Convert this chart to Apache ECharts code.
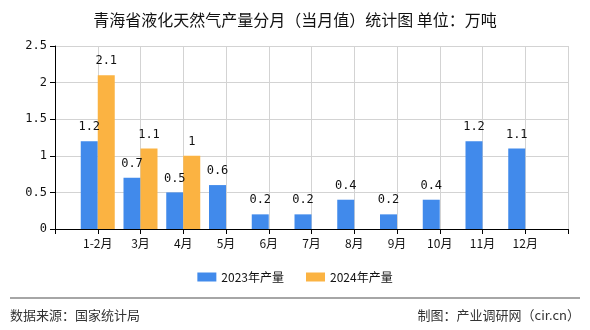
<!DOCTYPE html>
<html>
<head>
<meta charset="utf-8">
<script src="https://cdn.jsdelivr.net/npm/echarts@6/dist/echarts.min.js"></script>
<style>html,body{margin:0;padding:0;background:#fff}#c{width:590px;height:330px}</style>
</head>
<body>
<div id="c"></div>
<script>
const categories = ['1-2月','3月','4月','5月','6月','7月','8月','9月','10月','11月','12月'];
const series2023 = [1.2,0.7,0.5,0.6,0.2,0.2,0.4,0.2,0.4,1.2,1.1];
const series2024 = [2.1,1.1,1,null,null,null,null,null,null,null,null];
const seriesNames = ['2023年产量','2024年产量'];
const yTicks = {min:0,max:2.5,interval:0.5};

const axisCats = [''].concat(categories, ['']);
const pad = a => [null].concat(a, [null]);
const monoFont = '"DejaVu Sans Mono", monospace';
const cjkFont = '"Noto Sans CJK SC", sans-serif';

const chart = echarts.init(document.getElementById('c'));
chart.setOption({
  animation:false,
  backgroundColor:'#fff',
  title:{text:'青海省液化天然气产量分月（当月值）统计图 单位：万吨',left:'center',top:7,
    textStyle:{fontSize:16,fontWeight:'normal',color:'#111',fontFamily:cjkFont}},
  grid:{left:55,right:22,top:46,bottom:101,containLabel:false},
  legend:{bottom:42,left:'center',itemWidth:19,itemHeight:9,itemGap:22,icon:'rect',
    textStyle:{fontSize:12,color:'#111',fontFamily:cjkFont},data:seriesNames},
  xAxis:{type:'category',data:axisCats,boundaryGap:false,
    axisLine:{lineStyle:{color:'#000',width:1}},
    axisTick:{show:true,length:5,lineStyle:{color:'#000'}},
    axisLabel:{fontSize:12,color:'#111',fontFamily:cjkFont,margin:8},
    splitLine:{show:true,lineStyle:{color:'#d3d3d3',width:1}}},
  yAxis:{type:'value',min:yTicks.min,max:yTicks.max,interval:yTicks.interval,
    axisLine:{show:true,lineStyle:{color:'#000',width:1}},
    axisTick:{show:true,length:5,lineStyle:{color:'#000'}},
    axisLabel:{fontSize:12,color:'#111',fontFamily:monoFont,margin:8},
    splitLine:{show:true,lineStyle:{color:'#d3d3d3',width:1}}},
  series:[
    {name:seriesNames[0],type:'bar',data:pad(series2023),barWidth:17,barGap:'0%',
     itemStyle:{color:'#418aeb'},
     label:{show:true,position:'top',distance:8,fontSize:12,color:'#111',fontFamily:monoFont}},
    {name:seriesNames[1],type:'bar',data:pad(series2024),barWidth:17,barGap:'0%',
     itemStyle:{color:'#fbb342'},
     label:{show:true,position:'top',distance:8,fontSize:12,color:'#111',fontFamily:monoFont}}
  ],
  graphic:[
    {type:'line',shape:{x1:10,y1:298,x2:580,y2:298},style:{stroke:'#888',lineWidth:1.5}},
    {type:'text',left:10,top:309,style:{text:'数据来源：国家统计局',fontSize:13,fill:'#333',fontFamily:cjkFont}},
    {type:'text',right:10,top:309,style:{text:'制图：产业调研网（cir.cn）',fontSize:13,fill:'#333',fontFamily:cjkFont}}
  ]
});
</script>
</body>
</html>
